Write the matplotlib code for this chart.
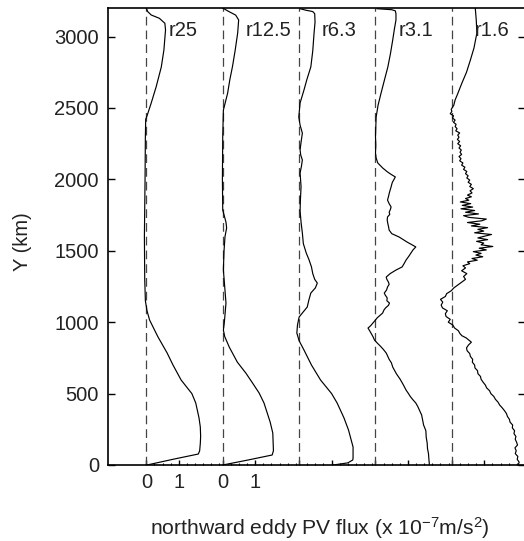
import numpy as np
import matplotlib
matplotlib.use('Agg')
import matplotlib.pyplot as plt

plt.rcParams['font.family'] = ['Liberation Sans', 'DejaVu Sans']
plt.rcParams['mathtext.fontset'] = 'custom'
plt.rcParams['mathtext.rm'] = 'Liberation Sans'
plt.rcParams['mathtext.it'] = 'Liberation Sans'

# --- data (flux in 1e-7 m/s^2, Y in km) ---
labels = ['r25', 'r12.5', 'r6.3', 'r3.1', 'r1.6']
offsets = [0.0, 2.35, 4.7, 7.05, 9.4]

y_r25 = [0, 40, 77, 100, 150, 200, 266, 330, 434, 500, 595, 700, 784, 900, 1015, 1080,
         1150, 1300, 1600, 1800, 2000, 2300, 2420, 2451, 2535, 2647, 2787, 2906, 3046,
         3093, 3128, 3151, 3175, 3200]
f_r25 = [0.02, 0.82, 1.6, 1.64, 1.66, 1.67, 1.66, 1.62, 1.52, 1.4, 1.07, 0.82, 0.64, 0.35,
         0.1, 0.02, -0.03, -0.05, -0.06, -0.05, -0.04, -0.03, -0.02, 0.03, 0.15, 0.3, 0.46,
         0.54, 0.59, 0.57, 0.4, 0.15, 0.04, 0.0]

y_r12 = [0, 35, 70, 100, 224, 300, 434, 504, 580, 644, 720, 826, 900, 945, 1000, 1134,
         1250, 1365, 1500, 1600, 1660, 1700, 1760, 1785, 2000, 2300, 2485, 2603, 2700,
         2790, 2900, 3025, 3116, 3150, 3180, 3200]
f_r12 = [0.0, 0.78, 1.52, 1.56, 1.54, 1.46, 1.27, 1.12, 0.9, 0.71, 0.45, 0.2, 0.06, 0.02,
         0.05, 0.1, 0.06, 0.02, 0.04, 0.07, 0.12, 0.1, 0.03, 0.0, -0.01, 0.0, 0.02, 0.15,
         0.22, 0.3, 0.38, 0.46, 0.49, 0.4, 0.15, 0.0]

y_r6 = [0, 15, 35, 49, 126, 245, 330, 434, 500, 595, 700, 805, 870, 924, 980, 1036, 1070,
        1106, 1155, 1204, 1240, 1274, 1300, 1340, 1387, 1440, 1484, 1550, 1624, 1700, 1780,
        1855, 1950, 2045, 2090, 2136, 2170, 2206, 2260, 2324, 2380, 2437, 2535, 2626, 2700,
        2787, 2900, 3025, 3100, 3160, 3175, 3185, 3195]
f_r6 = [1.05, 1.5, 1.65, 1.66, 1.66, 1.52, 1.38, 1.17, 1.0, 0.66, 0.38, 0.15, 0.0, -0.07,
        -0.05, 0.0, 0.12, 0.25, 0.3, 0.36, 0.5, 0.56, 0.48, 0.42, 0.38, 0.3, 0.22, 0.13, 0.1,
        0.06, 0.03, 0.04, 0.06, 0.03, 0.07, 0.1, 0.05, 0.03, 0.06, 0.1, 0.03, -0.01, 0.03,
        0.15, 0.24, 0.36, 0.42, 0.46, 0.49, 0.48, 0.42, 0.2, 0.03]

y_r3 = [0, 23, 50, 80, 115, 154, 195, 240, 280, 315, 350, 380, 410, 434, 460, 480, 505,
        525, 560, 600, 640, 686, 715, 740, 760, 784, 810, 830, 855, 875, 900, 920, 940, 959,
        975, 994, 1010, 1030, 1050, 1064, 1085, 1100, 1118, 1134, 1150, 1170, 1190, 1204,
        1225, 1246, 1265, 1280, 1300, 1316, 1340, 1365, 1387, 1410, 1435, 1460, 1484, 1505,
        1527, 1545, 1560, 1596, 1620, 1645, 1670, 1690, 1715, 1737, 1755, 1770, 1790, 1807,
        1830, 1855, 1880, 1900, 1925, 1947, 1965, 1980, 2000, 2017, 2035, 2052, 2080, 2115,
        2150, 2185, 2240, 2300, 2370, 2437, 2520, 2603, 2700, 2787, 2880, 2976, 3050, 3116,
        3160, 3180, 3188, 3195]
f_r3 = [1.66, 1.65, 1.64, 1.63, 1.6, 1.59, 1.56, 1.55, 1.48, 1.45, 1.42, 1.36, 1.3, 1.24,
        1.14, 1.07, 1.0, 0.94, 0.86, 0.76, 0.64, 0.53, 0.49, 0.42, 0.38, 0.33, 0.24, 0.16,
        0.05, -0.03, -0.08, -0.13, -0.18, -0.23, -0.15, -0.08, -0.02, 0.05, 0.15, 0.22, 0.26,
        0.31, 0.4, 0.43, 0.35, 0.36, 0.3, 0.27, 0.34, 0.37, 0.42, 0.4, 0.35, 0.33, 0.45, 0.63,
        0.82, 0.88, 0.94, 1.02, 1.09, 1.15, 1.24, 1.1, 0.98, 0.73, 0.5, 0.42, 0.4, 0.38, 0.36,
        0.37, 0.44, 0.42, 0.46, 0.48, 0.42, 0.37, 0.4, 0.42, 0.45, 0.48, 0.5, 0.52, 0.57, 0.61,
        0.48, 0.37, 0.22, 0.07, 0.02, 0.0, 0.01, 0.0, 0.01, 0.02, 0.08, 0.17, 0.28, 0.38, 0.46,
        0.53, 0.58, 0.63, 0.63, 0.61, 0.5, 0.05]

y_r16 = [0, 20, 40, 60, 80, 100, 120, 140, 160, 180, 200, 220, 240, 260, 280, 300, 320, 340,
         360, 380, 400, 420, 440, 460, 480, 500, 520, 540, 560, 580, 600, 620, 640, 660, 680,
         700, 720, 740, 760, 780, 800, 820, 840, 860, 875, 890, 905, 920, 940, 960, 980, 1000,
         1020, 1040, 1060, 1080, 1100, 1120, 1140, 1160, 1180, 1200, 1220, 1240, 1260, 1280,
         1300, 1320, 1340, 1360, 1380, 1395, 1410, 1422, 1434, 1446, 1458, 1470, 1482, 1494,
         1506, 1518, 1530, 1542, 1554, 1566, 1578, 1590, 1602, 1614, 1626, 1638, 1650, 1662,
         1674, 1686, 1698, 1710, 1722, 1734, 1746, 1758, 1770, 1782, 1794, 1806, 1818, 1830,
         1842, 1854, 1866, 1878, 1890, 1905, 1920, 1935, 1950, 1965, 1980, 1995, 2010, 2025,
         2040, 2055, 2070, 2085, 2100, 2115, 2130, 2145, 2160, 2175, 2190, 2205, 2220, 2235,
         2250, 2265, 2280, 2295, 2310, 2325, 2340, 2355, 2370, 2385, 2400, 2415, 2430, 2445,
         2460, 2475, 2490, 2520, 2556, 2600, 2675, 2750, 2836, 2920, 3025, 3116, 3200]
f_r16 = [2.04, 2.07, 2.01, 2.03, 1.95, 1.98, 1.94, 2.02, 1.99, 1.95, 1.97, 1.91, 1.93, 1.86,
         1.87, 1.79, 1.77, 1.71, 1.68, 1.62, 1.55, 1.47, 1.42, 1.34, 1.29, 1.2, 1.16, 1.07,
         1.03, 0.96, 0.9, 0.88, 0.8, 0.79, 0.71, 0.7, 0.63, 0.64, 0.57, 0.55, 0.47, 0.45, 0.51,
         0.6, 0.52, 0.44, 0.31, 0.25, 0.2, 0.08, 0.03, -0.11, -0.05, -0.18, -0.2, -0.14, -0.29,
         -0.33, -0.28, -0.35, -0.2, -0.16, -0.02, 0.06, 0.18, 0.3, 0.42, 0.36, 0.46, 0.3, 0.42,
         0.34, 0.55, 0.48, 0.78, 0.62, 0.95, 0.74, 0.9, 0.66, 1.06, 0.84, 1.26, 0.9, 0.98, 0.76,
         1.1, 0.8, 1.0, 1.22, 0.7, 0.98, 0.8, 1.1, 0.6, 0.86, 0.48, 0.92, 1.06, 0.52, 0.36,
         0.82, 0.42, 0.7, 0.28, 0.64, 0.32, 0.58, 0.26, 0.52, 0.42, 0.6, 0.48, 0.62, 0.56, 0.66,
         0.55, 0.6, 0.5, 0.55, 0.46, 0.5, 0.42, 0.46, 0.36, 0.4, 0.3, 0.34, 0.24, 0.28, 0.22,
         0.3, 0.25, 0.29, 0.22, 0.27, 0.18, 0.24, 0.17, 0.22, 0.18, 0.24, 0.12, 0.16, 0.1, 0.13,
         0.05, 0.1, 0.02, 0.05, -0.05, 0.0, -0.02, 0.06, 0.1, 0.18, 0.31, 0.45, 0.57, 0.68,
         0.77, 0.75, 0.72]

ys = [y_r25, y_r12, y_r6, y_r3, y_r16]
fs = [f_r25, f_r12, f_r6, f_r3, f_r16]

yticks = [0, 500, 1000, 1500, 2000, 2500, 3000]

W, H = 524, 541
fig = plt.figure(figsize=(W / 100, H / 100), dpi=100)
ax = fig.add_axes([108 / W, 76 / H, (525 - 108) / W, (533 - 76) / H])

txtc = '#222222'
for lab, off, y, f in zip(labels, offsets, ys, fs):
    ax.axvline(off, color='#444444', lw=0.9, ls=(0, (7, 4)))
    ax.plot(off + np.array(f), y, color='k', lw=0.85)
    ax.text(off + 0.7, 3045, lab, fontsize=14.5, color=txtc, va='center', ha='left')

ax.set_xlim(-1.18, 11.53)
ax.set_ylim(0, 3200)

ax.set_yticks(yticks)
ax.set_yticklabels([str(v) for v in yticks])
major_x, major_lab, minor_x = [], [], []
for i, off in enumerate(offsets):
    major_x += [off, off + 1]
    major_lab += (['0', '1'] if i < 2 else ['', ''])
    minor_x += [off + 0.25 * k for k in range(1, 10) if k != 4]
ax.set_xticks(major_x)
ax.set_xticklabels(major_lab)
ax.set_xticks(minor_x, minor=True)

ax.tick_params(axis='y', which='major', direction='in', left=True, right=True,
               length=5, width=1, labelsize=14.5, pad=6.5, labelcolor=txtc)
ax.tick_params(axis='x', which='major', direction='in', bottom=True, top=False,
               length=3.6, width=1, labelsize=14.5, pad=5.5, labelcolor=txtc)
ax.tick_params(axis='x', which='minor', direction='in', bottom=True, top=False,
               length=1.8, width=0.8)
for s in ax.spines.values():
    s.set_linewidth(1.2)

fig.text(23 / W, 1 - 242 / H, 'Y (km)', rotation=90, fontsize=14.5, color=txtc,
         ha='center', va='center')
fig.text(320 / W, 1 - 528 / H,
         r'northward eddy PV flux (x 10$^{\mathregular{-7}}$m/s$^{\mathregular{2}}$)',
         fontsize=15.2, color=txtc, ha='center', va='center')

fig.savefig('out.png', dpi=100)
